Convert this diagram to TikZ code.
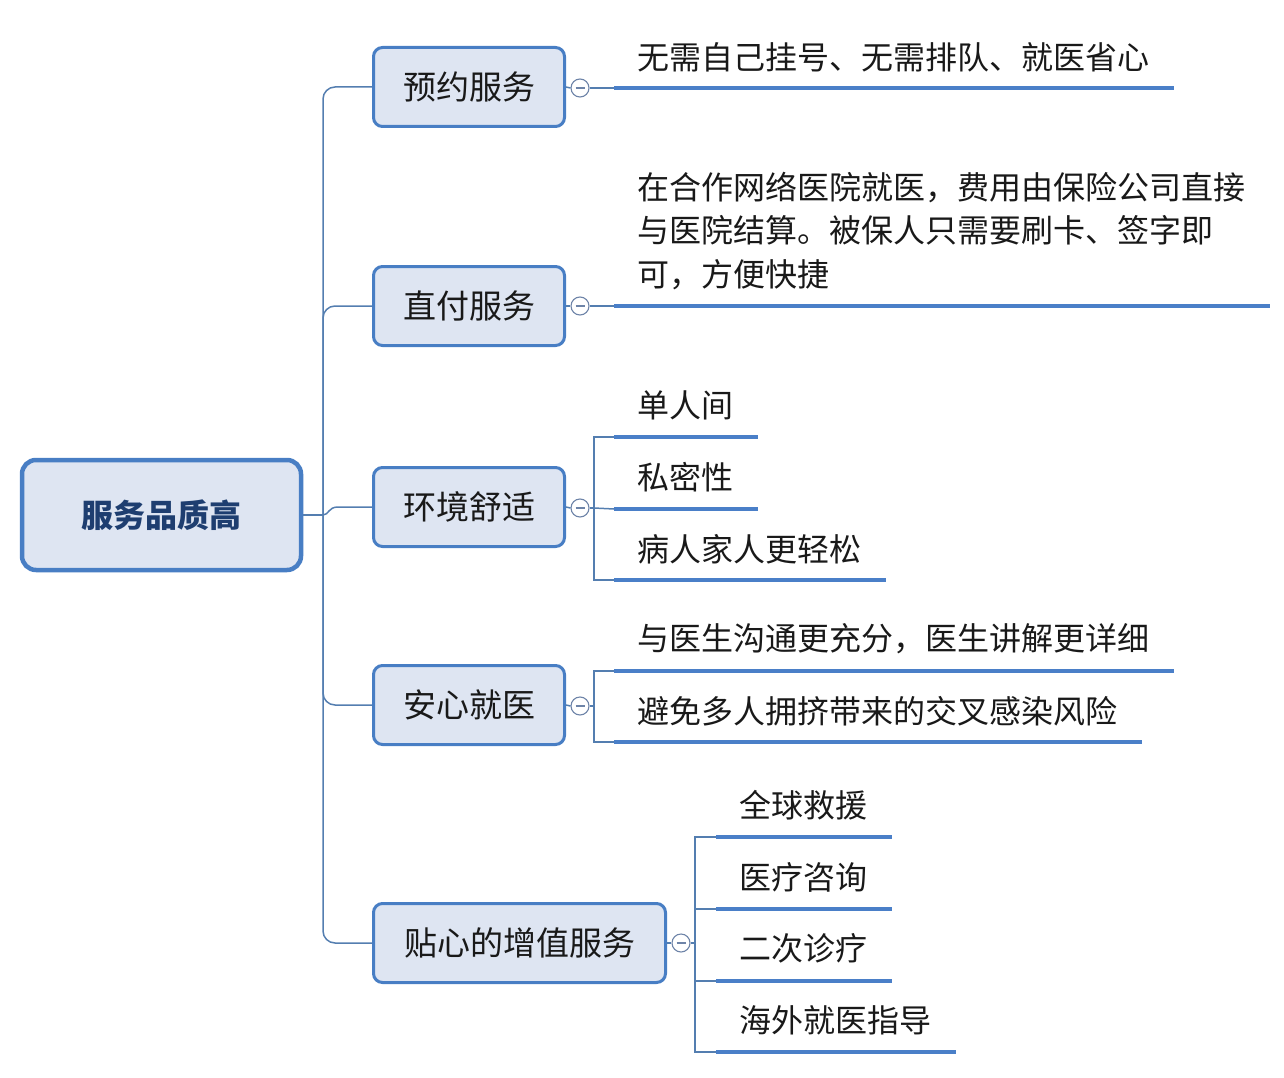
\documentclass[tikz,border=0pt]{standalone}
\usepackage{fontspec}
\setmainfont{Noto Sans CJK SC}
\newfontfamily\cjk{Noto Sans CJK SC}
\definecolor{nodeb}{RGB}{72,126,196}
\definecolor{nodef}{RGB}{222,229,242}
\definecolor{connc}{RGB}{84,126,176}
\definecolor{ulc}{RGB}{74,127,200}
\definecolor{togc}{RGB}{110,132,168}
\definecolor{roottext}{RGB}{30,62,112}
\definecolor{txt}{RGB}{25,25,25}
\begin{document}
\begin{tikzpicture}[x=1pt,y=-1pt,
  rootbox/.style={draw=nodeb, line width=4.5pt, fill=nodef, rounded corners=14pt,
    minimum width=279pt, minimum height=110pt, inner sep=0pt,
    font=\cjk\fontsize{32}{36}\selectfont\bfseries, text=roottext},
  branchbox/.style={draw=nodeb, line width=3pt, fill=nodef, rounded corners=9pt,
    minimum width=191pt, minimum height=79pt, inner sep=0pt,
    font=\cjk\fontsize{33}{38}\selectfont, text=txt},
  conn/.style={draw=connc, line width=1.5pt},
  uline/.style={draw=ulc, line width=4pt},
  tog/.style={circle, draw=togc, fill=white, line width=1.1pt, minimum size=18pt, inner sep=0pt},
  leaf/.style={anchor=base west, inner sep=0pt, font=\cjk\fontsize{32}{43.5}\selectfont, text=txt, align=left}
]
\useasboundingbox (0,0) rectangle (1284,1078);

% root and branches
\node[rootbox] (root) at (161.5,515) {服务品质高};
\node[branchbox] (b1) at (469,87) {预约服务};
\node[branchbox] (b2) at (469,306) {直付服务};
\node[branchbox] (b3) at (469,507) {环境舒适};
\node[branchbox] (b4) at (469,705) {安心就医};
\node[branchbox, minimum width=292pt] (b5) at (519.5,943) {贴心的增值服务};

% trunk
\coordinate (tr) at (323,515);
\draw[conn] (root.east) -- (tr);
\draw[conn, rounded corners=12pt] (tr) |- (b1.west);
\draw[conn, rounded corners=12pt] (tr) |- (b2.west);
\draw[conn] (tr) .. controls (329,515) and (328,507) .. (338,507) -- (b3.west);
\draw[conn, rounded corners=12pt] (tr) |- (b4.west);
\draw[conn, rounded corners=12pt] (tr) |- (b5.west);

% toggles
\node[tog] (t1) at (580,88) {};
\node[tog] (t2) at (580,306) {};
\node[tog] (t3) at (580,508) {};
\node[tog] (t4) at (580,706) {};
\node[tog] (t5) at (681,943) {};
\foreach \t in {t1,t2,t3,t4,t5}{
  \draw[togc, line width=1.2pt] ([xshift=-4.5pt]\t.center) -- ([xshift=4.5pt]\t.center);
}
\draw[conn] (b1.east) -- (t1.west);
\draw[conn] (b2.east) -- (t2.west);
\draw[conn] (b3.east) -- (t3.west);
\draw[conn] (b4.east) -- (t4.west);
\draw[conn] (b5.east) -- (t5.west);

% branch 1
\coordinate (u1a) at (614,88); \coordinate (u1b) at (1174,88);
\draw[conn] (t1.east) -- (u1a);
\draw[uline] (u1a) -- (u1b);
\node[leaf] (l1) at (637,70) {无需自己挂号、无需排队、就医省心};

% branch 2
\coordinate (u2a) at (614,306); \coordinate (u2b) at (1270,306);
\draw[conn] (t2.east) -- (u2a);
\draw[uline] (u2a) -- (u2b);
\node[leaf] (l2) at (637,286) {在合作网络医院就医，费用由保险公司直接\\与医院结算。被保人只需要刷卡、签字即\\可，方便快捷};

% branch 3
\coordinate (v3) at (594,508);
\draw[conn] (t3.east) -- (v3);
\draw[conn] (614,437) -- (594,437) -- (594,580) -- (614,580);
\draw[conn] (v3) -- (614,509);
\draw[uline] (614,437) -- (758,437);
\draw[uline] (614,509) -- (758,509);
\draw[uline] (614,580) -- (886,580);
\node[leaf] (l31) at (637,417) {单人间};
\node[leaf] (l32) at (637,489) {私密性};
\node[leaf] (l33) at (637,561) {病人家人更轻松};

% branch 4
\coordinate (v4) at (594,706);
\draw[conn] (t4.east) -- (v4);
\draw[conn] (614,671) -- (594,671) -- (594,742) -- (614,742);
\draw[uline] (614,671) -- (1174,671);
\draw[uline] (614,742) -- (1142,742);
\node[leaf] (l41) at (637,650) {与医生沟通更充分，医生讲解更详细};
\node[leaf] (l42) at (637,723) {避免多人拥挤带来的交叉感染风险};

% branch 5
\coordinate (v5) at (695,943);
\draw[conn] (t5.east) -- (v5);
\draw[conn] (716,837) -- (695,837) -- (695,1052) -- (716,1052);
\draw[conn] (695,909) -- (716,909);
\draw[conn] (695,981) -- (716,981);
\draw[uline] (716,837) -- (892,837);
\draw[uline] (716,909) -- (892,909);
\draw[uline] (716,981) -- (892,981);
\draw[uline] (716,1052) -- (956,1052);
\node[leaf] (l51) at (739,817) {全球救援};
\node[leaf] (l52) at (739,889) {医疗咨询};
\node[leaf] (l53) at (739,960) {二次诊疗};
\node[leaf] (l54) at (739,1032) {海外就医指导};
\end{tikzpicture}
\end{document}
